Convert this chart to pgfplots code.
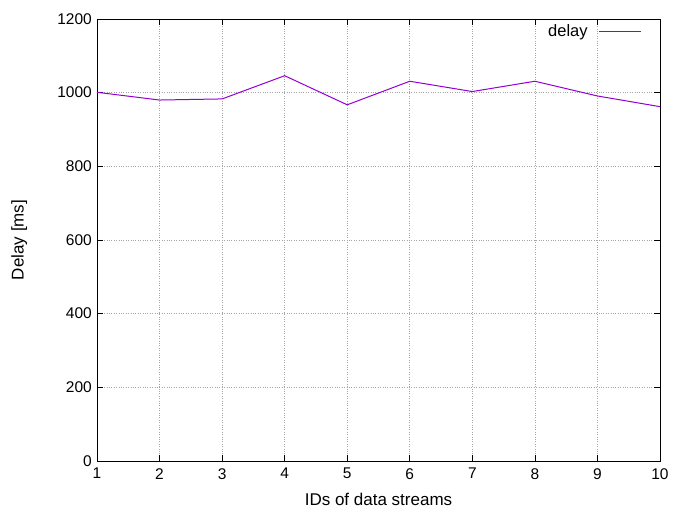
\documentclass[border=0pt]{standalone}
\usepackage{fontspec}
\setmainfont{Liberation Sans}
\usepackage{pgfplots}
\pgfplotsset{compat=1.18}
\definecolor{gpviolet}{HTML}{9400D3}
\begin{document}
\fontsize{15}{18}\selectfont
\begin{tikzpicture}
\useasboundingbox (-97pt,-52pt) rectangle (578pt,461pt);
\begin{axis}[
  at={(0,0)}, anchor=south west,
  scale only axis, width=563pt, height=442pt,
  xmin=1, xmax=10, ymin=0, ymax=1200,
  xtick={1,...,10}, ytick={0,200,...,1200},
  tick align=inside, major tick length=6pt,
  tick style={black, line width=0.6pt},
  axis line style={black, line width=0.8pt},
  grid=major, grid style={gray!70, dotted, line width=0.6pt},
  /pgf/number format/assume math mode=true,
  /pgf/number format/1000 sep={},
  ticklabel style={font=\fontsize{15.5}{18}\selectfont},
  xticklabel style={yshift=-2pt},
  label style={font=\fontsize{17}{20}\selectfont},
  xlabel={IDs of data streams},
  ylabel={Delay [ms]},
  xlabel style={yshift=-4pt},
  ylabel style={yshift=20pt},
  legend style={draw=none, fill=none, at={(0.973,0.998)}, anchor=north east, font=\fontsize{16.5}{19}\selectfont},
  legend cell align=right,
  legend plot pos=right,
  legend image code/.code={\path (0pt,0pt); \draw[#1] (9pt,0pt) -- (51pt,0pt);},
]
\addplot[gpviolet, line width=1pt] coordinates {
(1,1001) (2,980) (3,983) (4,1046) (5,967) (6,1031) (7,1003) (8,1031) (9,991) (10,962)
};
\addlegendentry{delay}
\end{axis}
\end{tikzpicture}
\end{document}
